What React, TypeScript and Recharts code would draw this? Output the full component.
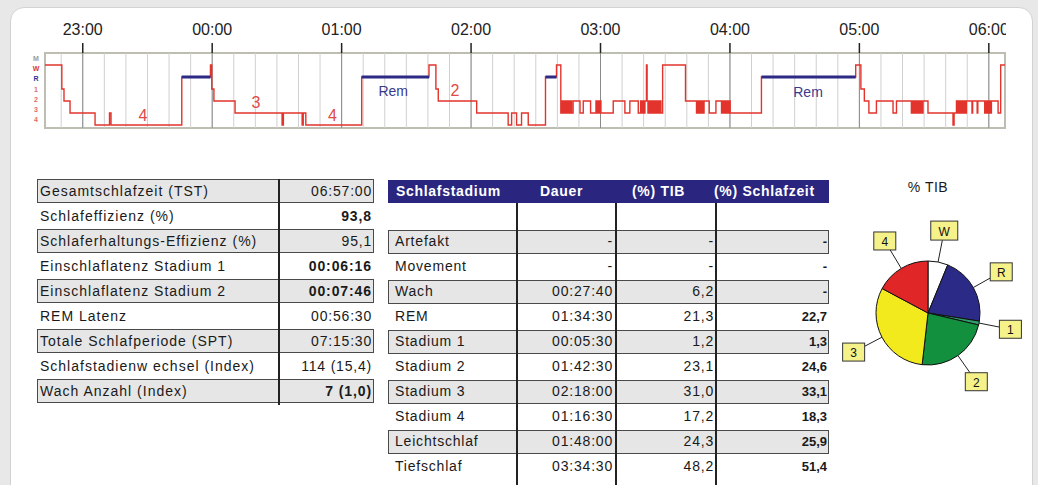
import React from 'react';
import {
  LineChart,
  Line,
  XAxis,
  YAxis,
  ReferenceLine,
  ReferenceArea,
  ReferenceDot,
  PieChart,
  Pie,
  Cell,
} from 'recharts';

const FONT = '"Liberation Sans", Arial, Helvetica, sans-serif';

// ---------- Hypnogram data (minutes after 22:00) ----------
const timeDomain: [number, number] = [42.5, 487.5];
const hourTicks = [60, 120, 180, 240, 300, 360, 420, 480];
const hourLabels = ['23:00', '00:00', '01:00', '02:00', '03:00', '04:00', '05:00', '06:00'];
const minorTicks = Array.from({ length: 44 }, (_, i) => 50 + i * 10);

const stageLevels = [0, 1, 2, 3, 4, 5, 6];
const stageLevelLabels = ['4', '3', '2', '1', 'R', 'W', 'M'];
const stageLevelColors = ['#e36b6b', '#e36b6b', '#e36b6b', '#e36b6b', '#2c3597', '#d93434', '#9c9c9c'];
const stageCodeToLevel: Record<string, number> = { '4': 0, '3': 1, '2': 2, '1': 3, R: 4, W: 5, M: 6 };

const hypnogram: [number, string][] = [
  [42.5, 'W'], [50.3, '1'], [51.3, '2'], [54.1, '3'], [65.7, '4'], [72.4, '3'], [73.1, '4'],
  [105.9, 'R'], [119.2, 'W'], [119.8, '1'], [120.8, '2'], [130.6, '3'],
  [152.4, '4'], [153.0, '3'], [161.7, '4'], [162.2, '3'], [163.4, '4'],
  [189.3, 'R'], [220.5, 'W'], [223.7, '1'], [224.8, '2'], [242.6, '3'],
  [257.2, '4'], [258.8, '3'], [261.1, '4'], [263.4, '3'], [266.5, '4'],
  [274.5, 'R'], [279.6, 'W'], [281.6, '3'],
  [282.1, '2'], [282.6, '3'], [283.1, '2'], [283.6, '3'], [284.1, '2'], [284.6, '3'], [285.1, '2'], [285.6, '3'], [286.1, '2'], [286.6, '3'],
  [287.3, '2'], [290.5, '3'], [292.0, '2'], [295.4, '3'],
  [297.9, '2'], [298.4, '3'], [298.9, '2'], [299.4, '3'], [299.9, '2'], [300.2, '3'],
  [305.9, '2'], [311.3, '3'], [313.6, '2'], [317.5, '3'],
  [318.6, '2'], [319.1, '3'], [319.6, '2'], [320.1, '3'], [320.6, '2'],
  [321.3, 'W'], [321.6, '2'],
  [322.0, '3'], [322.5, '2'], [323.0, '3'], [323.5, '2'], [324.0, '3'], [324.5, '2'], [325.0, '3'], [325.5, '2'], [326.0, '3'], [326.5, '2'], [327.0, '3'], [327.5, '2'], [328.0, '3'],
  [328.8, 'W'], [339.4, '2'],
  [344.5, '3'], [345.0, '2'], [345.5, '3'], [346.0, '2'], [346.5, '3'], [347.0, '2'], [347.5, '3'], [348.0, '2'],
  [350.4, '3'], [353.5, '2'],
  [356.1, '3'], [356.6, '2'], [357.1, '3'], [357.6, '2'], [358.1, '3'], [358.6, '2'], [359.1, '3'], [359.6, '2'], [360.1, '3'],
  [374.6, 'R'], [418.3, 'W'], [420.7, '1'], [422.3, '2'], [424.4, '3'], [427.9, '2'], [435.6, '3'], [437.2, '2'],
  [444.1, '3'], [444.6, '2'], [445.1, '3'], [445.6, '2'], [446.1, '3'], [446.6, '2'], [447.1, '3'], [447.6, '2'], [448.1, '3'], [448.6, '2'], [449.1, '3'],
  [449.5, '2'], [451.8, '3'], [463.4, '4'], [463.9, '3'],
  [465.0, '2'], [465.5, '3'], [466.0, '2'], [466.5, '3'], [467.0, '2'], [467.5, '3'], [468.0, '2'], [468.5, '3'], [469.0, '2'], [469.4, '3'],
  [469.6, '2'], [472.2, '3'], [472.5, '2'], [474.6, '3'], [474.9, '2'],
  [478.1, '3'], [478.6, '2'], [479.1, '3'], [479.6, '2'], [480.1, '3'], [480.6, '2'], [481.0, '3'],
  [481.2, '2'], [484.3, '3'], [485.5, 'W'], [487.5, 'W'],
];

// annotation texts inside the hypnogram: [minute, level, text, kind]
const hypnoLabels: [number, number, string, 'stage' | 'rem'][] = [
  [87.9, 0.83, '4', 'stage'],
  [140.3, 1.92, '3', 'stage'],
  [175.8, 0.83, '4', 'stage'],
  [203.9, 2.86, 'Rem', 'rem'],
  [232.5, 2.9, '2', 'stage'],
  [396.2, 2.78, 'Rem', 'rem'],
];

// ---------- Summary table ----------
const summaryLabels = [
  'Gesamtschlafzeit (TST)',
  'Schlafeffizienz (%)',
  'Schlaferhaltungs-Effizienz (%)',
  'Einschlaflatenz Stadium 1',
  'Einschlaflatenz Stadium 2',
  'REM Latenz',
  'Totale Schlafperiode (SPT)',
  'Schlafstadienw echsel (Index)',
  'Wach Anzahl (Index)',
];
const summaryValues = ['06:57:00', '93,8', '95,1', '00:06:16', '00:07:46', '00:56:30', '07:15:30', '114 (15,4)', '7 (1,0)'];
const summaryBold = [false, true, false, true, true, false, false, false, true];

// ---------- Stage table ----------
const stageHeaders = ['Schlafstadium', 'Dauer', '(%) TIB', '(%) Schlafzeit'];
const stageNames = ['', 'Artefakt', 'Movement', 'Wach', 'REM', 'Stadium 1', 'Stadium 2', 'Stadium 3', 'Stadium 4', 'Leichtschlaf', 'Tiefschlaf'];
const stageDurations = ['', '-', '-', '00:27:40', '01:34:30', '00:05:30', '01:42:30', '02:18:00', '01:16:30', '01:48:00', '03:34:30'];
const stageTib = ['', '-', '-', '6,2', '21,3', '1,2', '23,1', '31,0', '17,2', '24,3', '48,2'];
const stageSleep = ['', '-', '-', '-', '22,7', '1,3', '24,6', '33,1', '18,3', '25,9', '51,4'];

// ---------- Pie ----------
const pieNames = ['W', 'R', '1', '2', '3', '4'];
const pieValues = [6.2, 21.3, 1.2, 23.1, 31.0, 17.2];
const pieColors = ['#ffffff', '#2b2a86', '#2e9e6a', '#12903e', '#f2ea1c', '#e02626'];

const hypnoData = hypnogram.map(([t, s], i) => {
  const prev = i > 0 ? hypnogram[i - 1][1] : null;
  return {
    t,
    level: stageCodeToLevel[s],
    rem: s === 'R' || prev === 'R' ? stageCodeToLevel.R : null,
  };
});

const pieData = pieNames.map((name, i) => ({ name, value: pieValues[i] }));

const StageTick = (props: any) => {
  const { x, y, payload } = props;
  const idx = stageLevels.indexOf(payload.value);
  const yy = 89 + (y - 89) * 0.85;
  return (
    <text
      x={x - 1}
      y={yy}
      textAnchor="middle"
      dominantBaseline="central"
      fontSize={7}
      fontWeight="bold"
      fontFamily={FONT}
      fill={stageLevelColors[idx]}
    >
      {stageLevelLabels[idx]}
    </text>
  );
};

const RAD = Math.PI / 180;
const renderPieLabel = (props: any) => {
  const { cx, cy, midAngle, outerRadius } = props;
  const name = props.name ?? props.payload?.name;
  const cos = Math.cos(-midAngle * RAD);
  const sin = Math.sin(-midAngle * RAD);
  const rBox = outerRadius + 32;
  const w = name === 'W' ? 27 : 22;
  const h = name === 'W' ? 19 : 18;
  const bx = cx + rBox * cos;
  const by = cy + rBox * sin;
  const tEdge = Math.min(w / 2 / Math.max(Math.abs(cos), 1e-6), h / 2 / Math.max(Math.abs(sin), 1e-6));
  const lx = cx + (rBox - tEdge) * cos;
  const ly = cy + (rBox - tEdge) * sin;
  return (
    <g>
      <line x1={cx + outerRadius * cos} y1={cy + outerRadius * sin} x2={lx} y2={ly} stroke="#222" strokeWidth={1} />
      <rect x={bx - w / 2} y={by - h / 2} width={w} height={h} fill="#f6f28a" stroke="#333" strokeWidth={1} />
      <text x={bx} y={by + 1} textAnchor="middle" dominantBaseline="central" fontSize={12} fontFamily={FONT} fill="#111">
        {name}
      </text>
    </g>
  );
};

const ROW_TOP = 179;
const ROW_H = 25;

export default function App() {
  return (
    <div
      style={{
        position: 'absolute',
        left: 0,
        top: 0,
        width: 1038,
        height: 485,
        overflow: 'hidden',
        background: '#e8e8e8',
        fontFamily: FONT,
        color: '#1a1a1a',
      }}
    >
      <div
        style={{
          position: 'absolute',
          left: 10,
          top: 7,
          width: 1023,
          height: 540,
          background: '#ffffff',
          border: '1px solid #d2d2d2',
          borderRadius: 14,
          boxSizing: 'border-box',
        }}
      />

      {/* Hypnogram */}
      <div style={{ position: 'absolute', left: 0, top: 0, width: 1006, height: 140, overflow: 'hidden' }}>
        <LineChart width={1038} height={140} data={hypnoData} margin={{ top: 23, right: 33, bottom: 12, left: 25 }}>
          <XAxis
            dataKey="t"
            type="number"
            domain={timeDomain}
            ticks={hourTicks}
            interval={0}
            orientation="top"
            height={30}
            tickSize={10}
            tickMargin={8}
            axisLine={false}
            tickLine={{ stroke: '#222', strokeWidth: 1.5 }}
            tick={{ fontSize: 16, fill: '#222', fontFamily: FONT }}
            tickFormatter={(v: number) => hourLabels[hourTicks.indexOf(v)]}
            allowDataOverflow
          />
          <YAxis
            type="number"
            domain={[-0.25, 6]}
            ticks={stageLevels}
            interval={0}
            width={20}
            axisLine={false}
            tickLine={false}
            tick={<StageTick />}
            allowDataOverflow
          />
          {minorTicks.map((m) => (
            <ReferenceLine key={'m' + m} x={m} stroke="#d0d0d0" strokeWidth={1} />
          ))}
          {hourTicks.map((h) => (
            <ReferenceLine key={'h' + h} x={h} stroke="#8a8a8a" strokeWidth={1} />
          ))}
          <ReferenceArea
            x1={timeDomain[0]}
            x2={timeDomain[1]}
            y1={-0.25}
            y2={6}
            fill="none"
            fillOpacity={0}
            stroke="#bdbdb2"
            strokeWidth={2}
          />
          <Line
            dataKey="level"
            type="stepAfter"
            stroke="#e2342c"
            strokeWidth={1.4}
            dot={false}
            isAnimationActive={false}
          />
          <Line
            dataKey="rem"
            type="stepAfter"
            stroke="#2c2a84"
            strokeWidth={3}
            dot={false}
            connectNulls={false}
            isAnimationActive={false}
          />
          {hypnoLabels.map(([t, lv, txt, kind], i) => (
            <ReferenceDot
              key={'l' + i}
              x={t}
              y={lv}
              r={0}
              fill="none"
              stroke="none"
              label={{
                value: txt,
                position: 'center',
                fill: kind === 'rem' ? '#3a3a8c' : '#e04a46',
                fontSize: kind === 'rem' ? 14 : 16,
                fontFamily: FONT,
              }}
            />
          ))}
        </LineChart>
      </div>

      {/* Summary table */}
      {summaryLabels.map((label, i) => {
        const top = ROW_TOP + ROW_H * i;
        const shaded = i % 2 === 0;
        return (
          <React.Fragment key={'s' + i}>
            {shaded && (
              <div
                style={{
                  position: 'absolute',
                  left: 37,
                  top: top,
                  width: 337,
                  height: 24,
                  background: '#e6e6e6',
                  border: '1px solid #4a4a4a',
                  boxSizing: 'border-box',
                }}
              />
            )}
            <div
              style={{
                position: 'absolute',
                left: 40,
                top: top,
                height: 24,
                lineHeight: '24px',
                fontSize: 14,
                letterSpacing: 1.0,
                whiteSpace: 'nowrap',
              }}
            >
              {label}
            </div>
            <div
              style={{
                position: 'absolute',
                left: 282,
                width: 90,
                top: top,
                height: 24,
                lineHeight: '24px',
                fontSize: 14,
                letterSpacing: summaryBold[i] ? 0.9 : 0.8,
                fontWeight: summaryBold[i] ? 'bold' : 'normal',
                textAlign: 'right',
                whiteSpace: 'nowrap',
              }}
            >
              {summaryValues[i]}
            </div>
          </React.Fragment>
        );
      })}
      <div style={{ position: 'absolute', left: 278, top: 179, width: 2, height: 226, background: '#222' }} />

      {/* Stage table */}
      <div style={{ position: 'absolute', left: 388, top: 180, width: 441, height: 23, background: '#2a2680' }} />
      {stageHeaders.map((h, i) => (
        <div
          key={'h' + i}
          style={{
            position: 'absolute',
            left: [396, 540, 632, 714][i],
            top: 180,
            height: 23,
            lineHeight: '23px',
            fontSize: 14,
            fontWeight: 'bold',
            letterSpacing: 0.7,
            color: '#ffffff',
            whiteSpace: 'nowrap',
          }}
        >
          {h}
        </div>
      ))}
      {stageNames.map((name, k) => {
        const top = ROW_TOP + ROW_H * (k + 1);
        const shaded = k % 2 === 1;
        const cell = (txt: string, right: number, bold: boolean, fs: number) => (
          <div
            style={{
              position: 'absolute',
              left: right - 100,
              width: 100,
              top: top,
              height: 25,
              lineHeight: '25px',
              fontSize: fs,
              fontWeight: bold ? 'bold' : 'normal',
              letterSpacing: bold ? 0 : 0.8,
              textAlign: 'right',
              whiteSpace: 'nowrap',
            }}
          >
            {txt}
          </div>
        );
        return (
          <React.Fragment key={'r' + k}>
            {shaded && (
              <div
                style={{
                  position: 'absolute',
                  left: 388,
                  top: top + 1,
                  width: 441,
                  height: 24,
                  background: '#e6e6e6',
                  border: '1px solid #4a4a4a',
                  boxSizing: 'border-box',
                }}
              />
            )}
            <div
              style={{
                position: 'absolute',
                left: 395,
                top: top,
                height: 25,
                lineHeight: '25px',
                fontSize: 14,
                letterSpacing: 0.8,
                whiteSpace: 'nowrap',
              }}
            >
              {name}
            </div>
            {cell(stageDurations[k], 613, false, 14)}
            {cell(stageTib[k], 714, false, 14)}
            {cell(stageSleep[k], 827, true, 13)}
          </React.Fragment>
        );
      })}
      {[517, 616, 716].map((x) => (
        <div key={'v' + x} style={{ position: 'absolute', left: x - 1, top: 203, width: 2, height: 290, background: '#222' }} />
      ))}

      {/* Pie */}
      <div
        style={{
          position: 'absolute',
          left: 878,
          width: 100,
          top: 179,
          height: 16,
          lineHeight: '16px',
          textAlign: 'center',
          fontSize: 14,
          letterSpacing: 0.5,
        }}
      >
        % TIB
      </div>
      <div style={{ position: 'absolute', left: 830, top: 170 }}>
        <PieChart width={204} height={240} margin={{ top: 0, right: 0, bottom: 0, left: 0 }}>
          <Pie
            data={pieData}
            dataKey="value"
            nameKey="name"
            cx={98}
            cy={143}
            outerRadius={52}
            startAngle={90}
            endAngle={-270}
            stroke="#111"
            strokeWidth={1}
            label={renderPieLabel}
            labelLine={false}
            isAnimationActive={false}
          >
            {pieData.map((d, i) => (
              <Cell key={d.name} fill={pieColors[i]} />
            ))}
          </Pie>
        </PieChart>
      </div>
    </div>
  );
}
